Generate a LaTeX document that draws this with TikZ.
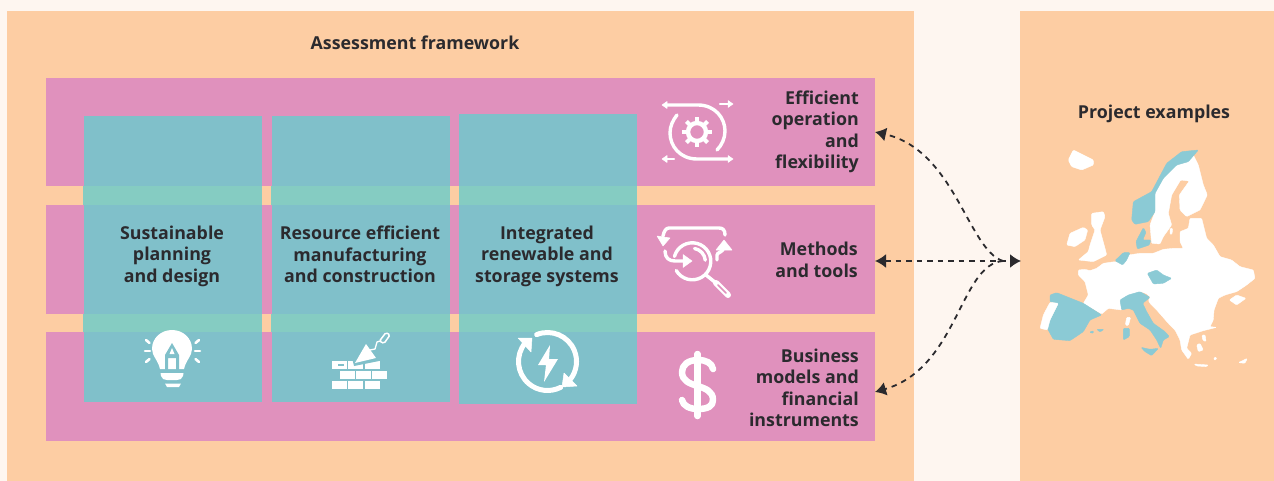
\documentclass[tikz,border=0pt]{standalone}
\usepackage{fontspec}
\setmainfont{Open Sans}
\usetikzlibrary{arrows.meta}
\definecolor{pagebg}{HTML}{FEF6F0}
\definecolor{panelorange}{HTML}{FDCDA3}
\definecolor{rowpink}{HTML}{E091BD}
\definecolor{colteal}{HTML}{80C0CA}
\definecolor{bandteal}{HTML}{85CCC2}
\definecolor{mapteal}{HTML}{8BCAD5}
\definecolor{inktext}{HTML}{2B2A2E}
\begin{document}
\begin{tikzpicture}[
            x=1pt, y=-1pt,
            panel/.style={rectangle, fill=panelorange, inner sep=0pt, minimum height=470pt},
            rowbox/.style={rectangle, fill=rowpink, inner sep=0pt, minimum width=829pt, minimum height=108.5pt},
            colbox/.style={rectangle, fill=colteal, inner sep=0pt, minimum width=178pt},
            title/.style={font=\fontsize{17.8}{21.5}\selectfont\bfseries, text=inktext, inner sep=0pt},
            rowlabel/.style={title, align=right, anchor=east},
            collabel/.style={title, align=center},
            link/.style={<->, >={Latex[length=11pt,width=14pt]}, draw=inktext, line width=1.8pt, dash pattern=on 5.5pt off 5pt},
            feed/.style={->, >={Latex[length=11pt,width=14pt]}, draw=inktext, line width=1.8pt, dash pattern=on 5.5pt off 5pt},
            icon/.style={draw=white, line width=3.4pt, line cap=round, line join=round},
            arrowmark/.style={fill=white, draw=white, line width=0.5pt, line join=round},
            land/.style={fill=white, draw=white, line width=0.4pt, line join=round, rounded corners=1pt},
            sea/.style={fill=mapteal, draw=mapteal, line width=0.4pt, line join=round, rounded corners=1pt}
        ]
            \useasboundingbox (0,0) rectangle (1274,481);
            \fill[pagebg] (0,0) rectangle (1274,481);

            % Panels
            \node[panel, minimum width=907pt] (framework) at (460.5,246) {};
            \node[panel, minimum width=254pt] (projects) at (1147,246) {};
            \node[title] (frameworktitle) at (415,43) {Assessment framework};
            \node[title] (projectstitle) at (1154,114) {Project examples};

            % Rows
            \node[rowbox] (efficient) at (460.5,132) {};
            \node[rowbox] (methods) at (460.5,259.5) {};
            \node[rowbox] (business) at (460.5,386.5) {};

            % Columns
            \node[colbox, minimum height=286pt] (planning) at (172.5,259) {};
            \node[colbox, minimum height=286pt] (manufacturing) at (360.5,259) {};
            \node[colbox, minimum height=290pt] (storage) at (548,259) {};

            % Crossings of columns and gaps
            \foreach \colname in {planning, manufacturing, storage} {
                \fill[bandteal] (\colname.west |- 0,186) rectangle (\colname.east |- 0,205);
                \fill[bandteal] (\colname.west |- 0,314) rectangle (\colname.east |- 0,332);
            }

            % Labels
            \node[collabel] (planninglabel) at (172,256) {Sustainable\\planning\\and design};
            \node[collabel] (manufacturinglabel) at (360,254.5) {Resource efficient\\manufacturing\\and construction};
            \node[collabel] (storagelabel) at (547,256) {Integrated\\renewable and\\storage systems};
            \node[rowlabel] (efficientlabel) at (859,132) {Efficient\\operation\\and\\flexibility};
            \node[rowlabel] (methodslabel) at (858,260) {Methods\\and tools};
            \node[rowlabel] (businesslabel) at (859,388) {Business\\models and\\financial\\instruments};

            % Connections
            \coordinate (hub) at (1003,261);
            \coordinate (mapin) at (1021,261);
            \coordinate (efficientin) at (875,132);
            \coordinate (methodsin) at (875,261);
            \coordinate (businessin) at (875,392);
            \draw[link] (methodsin) -- (mapin);
            \draw[feed] (hub) .. controls (968,250) and (955,150) .. (efficientin);
            \draw[feed] (hub) .. controls (960,264) and (958,368) .. (businessin);

            % Gear icon
            \draw[icon] (665,105) -- (698,105) .. controls (715,105) and (725,118) .. (725,131) .. controls (725,138) and (722,145) .. (717,150);
            \draw[icon] (730,159) -- (697,159) .. controls (680,159) and (670,146) .. (670,133) .. controls (670,126) and (673,120) .. (677,115);
            \draw[icon, line width=2.4pt] (720,104) -- (730,104);
            \draw[icon, line width=2.4pt] (665,159) -- (674,159);
            \fill[arrowmark] (662,105) -- (667,101.5) -- (667,108.5) -- cycle;
            \fill[arrowmark] (733,104) -- (728,100.5) -- (728,107.5) -- cycle;
            \fill[arrowmark] (733,159) -- (728,155.5) -- (728,162.5) -- cycle;
            \fill[arrowmark] (662,159) -- (667,155.5) -- (667,162.5) -- cycle;
            \draw[icon, line width=4.4pt] (697,132) circle (9);
            \foreach \tooth in {0,45,...,315}
                \draw[icon, line width=4pt, line cap=butt] (697,132) ++(\tooth:10) -- ++(\tooth:5);

            % Search icon
            \draw[icon] (725,235) .. controls (725,230) and (723,228) .. (719,228) -- (669,228) .. controls (666,228) and (664,231) .. (663,236);
            \fill[arrowmark] (663,246) -- (657,236) -- (670,238) -- cycle;
            \draw[icon] (692.3,261.3) ++(-165:18.5) arc (-165:150:18.5);
            \draw[icon] (692.3,261.3) ++(-80:13) arc (-80:-5:13);
            \draw[icon] (665,251) .. controls (665,258) and (669,261) .. (675,261) -- (686,261);
            \fill[arrowmark] (692,261) -- (683,254.5) -- (683,267.5) -- cycle;
            \draw[icon] (717,260) -- (717,255) .. controls (717,252) and (723,253) .. (724,247);
            \fill[arrowmark] (724,240) -- (716,250) -- (732,250) -- cycle;
            \draw[icon] (706,275) -- (716,283);
            \draw[icon, line width=6pt] (716,283) -- (728,295);
            \draw[rowpink, line width=1.6pt, line cap=round] (718,285) -- (726,293);

            % Bulb icon
            \fill[white] (160,369) .. controls (158,360) and (152,356) .. (152,349) .. controls (152,338) and (161,330) .. (172,330) .. controls (183,330) and (192,338) .. (192,349) .. controls (192,356) and (186,360) .. (184,369) -- cycle;
            \fill[colteal] (165,370) -- (165,355) -- (172,343) -- (179,355) -- (179,370) -- (176,370) -- (176,358) -- (168,358) -- (168,370) -- cycle;
            \fill[white] (172,348) -- (174.5,354) -- (169.5,354) -- cycle;
            \fill[white] (160.5,373) -- (183.5,373) -- (183,376) .. controls (182,379) and (180,380) .. (177,380) -- (167,380) .. controls (164,380) and (162,379) .. (161,376) -- cycle;
            \fill[white] (165,383.5) -- (181,383.5) -- (179,387) -- (167,387) -- cycle;
            \foreach \rayx/\rayy/\rayu/\rayv in {145/351/150/351, 195/351/200/351, 146/340/149.5/343, 199/340/195.5/343, 146/362/149.5/359, 199/362/195.5/359}
                \draw[icon, line width=2.6pt] (\rayx,\rayy) -- (\rayu,\rayv);

            % Bricks icon
            \foreach \brickx/\bricky in {332/361, 348/361, 365/361, 340/371, 356/371, 372/371, 332/381, 348/381, 365/381}
                \fill[white] (\brickx,\bricky) rectangle ++(14.5,8);
            \fill[colteal] (338,364) rectangle (344,366);
            \fill[colteal] (352,358) -- (376,358) -- (379,361) -- (354,366) -- cycle;
            \fill[white] (355,363) -- (366,344) -- (376,358) -- cycle;
            \draw[white, line width=1.3pt, line join=round] (370,350) -- (375,349) -- (377,342) -- (380,341);
            \draw[white, line width=1.5pt, rounded corners=1.5pt] (379.5,341) -- (386,332.5) -- (390,335) -- (384,343.5) -- cycle;

            % Storage icon
            \draw[icon, line width=5pt] (547.5,361.5) ++(-112:29) arc (-112:37:29);
            \draw[icon, line width=5pt] (547.5,361.5) ++(-140:29) arc (-140:-297:29);
            \fill[arrowmark] (518,338) -- (532,338) -- (531,352) -- cycle;
            \fill[arrowmark] (564,373) -- (577,386) -- (562,387) -- cycle;
            \fill[white] (550,345) -- (538,365) -- (546,365) -- (544,382) -- (558,359) -- (549,359) -- cycle;

            % Dollar icon
            \draw[icon, line width=6.5pt] (713,369) .. controls (712,363) and (706,360) .. (698,360) .. controls (688,360) and (682,365) .. (682,372) .. controls (682,390) and (713,382) .. (713,400) .. controls (713,406) and (708,409) .. (698,409) .. controls (690,409) and (683,406) .. (682,400);
            \draw[icon, line width=6.5pt] (697.5,354) -- (697.5,416);

            % Map, north
            \begin{scope}[shift={(1060,145)}, x=0.3333pt, y=-0.3333pt]
                \fill[land] (25,45) -- (40,15) -- (60,25) -- (100,45) -- (100,60) -- (65,75) -- (35,65) -- cycle;
                \fill[land] (20,300) -- (30,265) -- (70,247) -- (83,255) -- (75,285) -- (45,305) -- cycle;
                \fill[land] (95,205) -- (130,200) -- (135,215) -- (120,255) -- (135,310) -- (140,330) -- (100,350) -- (55,345) -- (85,320) -- (90,300) -- (105,255) -- (95,240) -- cycle;
                \fill[land] (275,295) -- (270,240) -- (285,200) -- (285,145) -- (310,100) -- (350,60) -- (385,50) -- (400,30) -- (415,60) -- (430,120) -- (442,150) -- (420,195) -- (380,215) -- (360,195) -- (358,150) -- (388,108) -- (362,105) -- (335,150) -- (325,205) -- (335,240) -- (310,275) -- (300,297) -- cycle;
                \fill[land] (330,250) -- (338,250) -- (336,268) -- (330,268) -- cycle;
                \fill[sea] (215,225) -- (220,170) -- (275,140) -- (320,55) -- (365,20) -- (415,15) -- (385,50) -- (350,60) -- (310,100) -- (285,145) -- (285,200) -- (265,230) -- (225,238) -- cycle;
                \fill[sea] (228,290) -- (250,248) -- (258,262) -- (248,285) -- (272,285) -- (268,300) -- (232,312) -- cycle;
            \end{scope}

            % Map, south
            \begin{scope}[shift={(1040,240)}, x=0.3333pt, y=-0.3333pt]
                \fill[land] (115,90) -- (135,88) -- (150,92) -- (170,85) -- (190,70) -- (225,65) -- (245,70) -- (265,45) -- (300,40) -- (340,40) -- (370,28) -- (400,25) -- (430,25) -- (420,5) -- (420,-25) -- (445,-35) -- (450,-65) -- (485,-65) -- (500,-5) -- (520,15) -- (540,50) -- (575,60) -- (600,80) -- (640,90) -- (645,115) -- (620,135) -- (590,155) -- (555,165) -- (535,175) -- (522,210) -- (520,240) -- (510,260) -- (530,262) -- (490,272) -- (450,285) -- (445,305) -- (440,325) -- (455,340) -- (445,358) -- (425,330) -- (420,300) -- (405,270) -- (385,250) -- (350,210) -- (330,190) -- (325,180) -- (332,172) -- (318,160) -- (300,155) -- (270,165) -- (240,180) -- (245,210) -- (205,205) -- (185,222) -- (130,190) -- (145,165) -- (135,125) -- (115,105) -- cycle;
                \fill[land] (568,180) -- (590,165) -- (618,175) -- (590,195) -- cycle;
                \fill[land] (462,372) -- (505,375) -- (500,380) -- (470,378) -- cycle;
                \fill[land] (595,368) -- (622,355) -- (615,370) -- cycle;
                \fill[land] (260,232) -- (272,232) -- (265,257) -- (256,255) -- cycle;
                \fill[land] (470,315) -- (480,310) -- (490,330) -- (475,335) -- cycle;
                \fill[land] (486,285) -- (496,285) -- (498,305) -- (488,300) -- cycle;
                \fill[land] (522,352) -- (530,352) -- (528,360) -- (522,360) -- cycle;
                \fill[sea] (225,62) -- (250,38) -- (270,38) -- (260,60) -- (248,75) -- cycle;
                \fill[sea] (322,100) -- (350,90) -- (370,105) -- (395,115) -- (370,130) -- (340,132) -- cycle;
                \fill[sea] (30,165) -- (50,158) -- (130,190) -- (185,225) -- (150,240) -- (130,275) -- (90,302) -- (40,298) -- (22,265) -- (30,240) -- (55,190) -- (30,185) -- cycle;
                \fill[land] (30,187) -- (55,190) -- (30,240) -- (22,270) -- (0,265) -- (10,225) -- cycle;
                \fill[sea] (240,180) -- (265,165) -- (300,155) -- (330,172) -- (308,190) -- (320,215) -- (340,250) -- (375,275) -- (388,290) -- (370,300) -- (362,325) -- (350,300) -- (330,270) -- (300,250) -- (280,210) -- (265,205) -- (245,210) -- cycle;
                \fill[sea] (303,322) -- (330,328) -- (355,325) -- (335,347) -- (315,335) -- cycle;
                \fill[sea] (250,265) -- (268,265) -- (268,290) -- (250,300) -- cycle;
                \fill[sea] (148,277) -- (160,272) -- (160,280) -- cycle;
                \fill[sea] (170,268) -- (192,268) -- (180,276) -- cycle;
            \end{scope}

        \end{tikzpicture}
\end{document}
